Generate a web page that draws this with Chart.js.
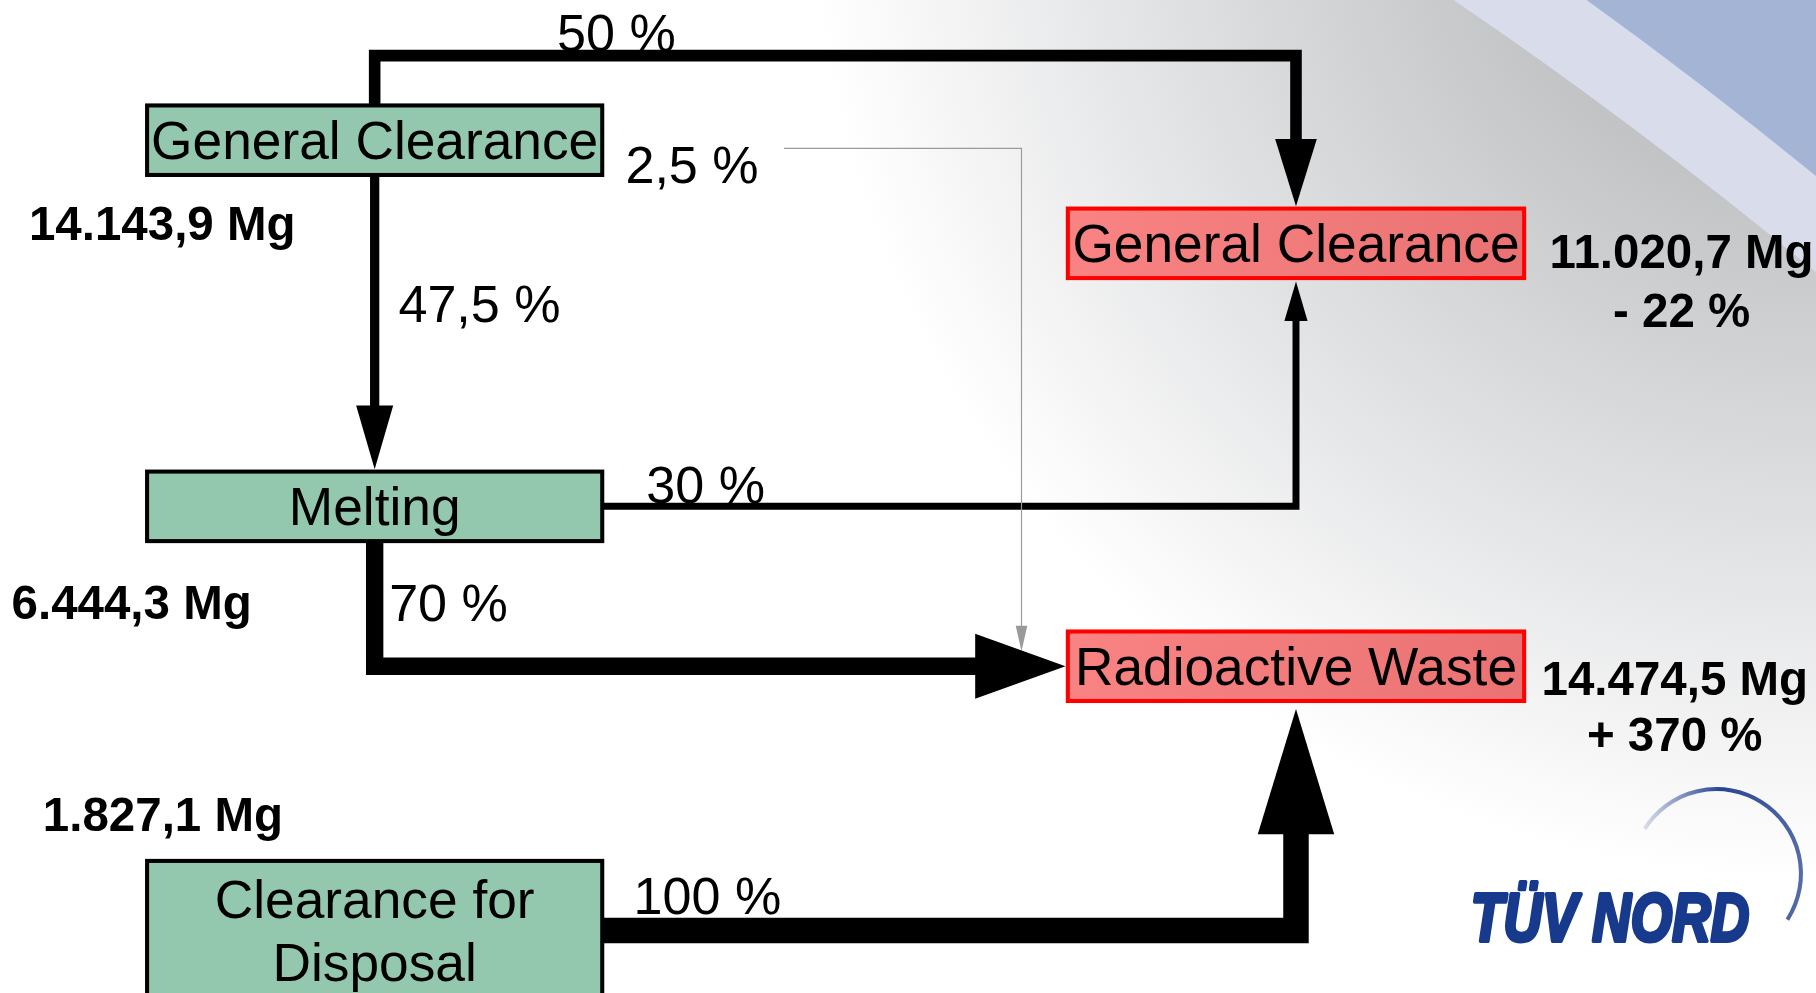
<!DOCTYPE html>
<html lang="en">
<head>
<meta charset="UTF-8">
<title>Material flows</title>
<script src="https://cdn.jsdelivr.net/npm/chart.js"></script>
<style>
    html, body { margin: 0; padding: 0; background: #fff; overflow: hidden; }
    #wrap { position: relative; width: 1816px; height: 993px; }
</style>
</head>
<body>
<div id="wrap"><canvas id="flowChart"></canvas></div>
<script>
// nodes of the diagram
const nodeNames = ['General Clearance', 'Melting', 'Clearance for Disposal', 'General Clearance', 'Radioactive Waste'];
const nodeMass = [14143.9, 6444.3, 1827.1, 11020.7, 14474.5];   // Mg
const nodeChange = [null, null, null, -22, 370];                 // % vs. before
const nodeKind = ['source', 'source', 'source', 'result', 'result'];

// flows between nodes
const flowFrom = [0, 0, 0, 1, 1, 2];
const flowTo = [3, 4, 1, 3, 4, 4];
const flowShare = [50, 2.5, 47.5, 30, 70, 100];   // % of the source node

// layout, in units of a 1568 x 857 sheet
const W = 1568, H = 857;
const K = 1816 / W;
const nodeBox = [[127, 91, 393, 60], [127, 407, 393, 60], [127, 743, 393, 120], [922, 180, 394, 60], [922, 545, 394, 60]];
const massAt = [[25, 193], [10, 520], [37, 703], [1338, 217], [1331, 585]];
const changeAt = [null, null, null, [1452, 268], [1446, 634]];
const shareAt = [[481, 28], [540, 142], [344, 262], [558, 418], [336, 520], [547, 773]];
const flowWidth = [10, 1, 8, 6, 15, 22];
const arrowSize = [[58, 18], [22, 5], [55, 16], [34, 10], [78, 28], [108, 33]];

const cx = i => nodeBox[i][0] + nodeBox[i][2] / 2;
const cy = i => nodeBox[i][1] + nodeBox[i][3] / 2;
const boxTop = i => nodeBox[i][1];
const boxBottom = i => nodeBox[i][1] + nodeBox[i][3];
const boxLeft = i => nodeBox[i][0];
const boxRight = i => nodeBox[i][0] + nodeBox[i][2];

// routing of each flow (orthogonal paths)
const flowRoute = [
    [[cx(0), boxTop(0)], [cx(0), 48], [cx(3), 48], [cx(3), boxTop(3) - 2]],
    [[677, 128], [882, 128], [882, 562]],
    [[cx(0), boxBottom(0)], [cx(1), boxTop(1) - 2]],
    [[boxRight(1), cy(1)], [cx(3), cy(1)], [cx(3), boxBottom(3) + 3]],
    [[cx(1), boxBottom(1)], [cx(1), cy(4)], [boxLeft(4) - 2, cy(4)]],
    [[boxRight(2), cy(2)], [cx(4), cy(2)], [cx(4), boxBottom(4) + 7]]
];

function deNumber(v, digits) {
    const parts = v.toFixed(digits).split('.');
    const int = parts[0].replace(/\B(?=(\d{3})+(?!\d))/g, '.');
    return parts.length > 1 ? int + ',' + parts[1] : int;
}
const shareText = s => String(s).replace('.', ',') + ' %';
const massText = m => deNumber(m, 1) + ' Mg';
const changeText = c => (c < 0 ? '- ' : '+ ') + Math.abs(c) + ' %';
const flowColor = i => (flowShare[i] < 5 ? '#9a9a9a' : '#000000');

const datasets = flowShare.map((s, i) => {
    const pts = flowRoute[i].map(p => ({ x: p[0], y: p[1] }));
    // stop the stroke where the arrow head starts
    const a = pts[pts.length - 2], b = pts[pts.length - 1];
    const len = Math.hypot(b.x - a.x, b.y - a.y);
    const cut = arrowSize[i][0] - 2;
    pts[pts.length - 1] = { x: b.x - (b.x - a.x) / len * cut, y: b.y - (b.y - a.y) / len * cut };
    return {
        label: nodeNames[flowFrom[i]] + ' -> ' + nodeNames[flowTo[i]],
        data: pts,
        showLine: true,
        borderColor: flowColor(i),
        borderWidth: flowWidth[i] * K,
        borderJoinStyle: 'miter',
        borderCapStyle: 'butt',
        pointRadius: 0,
        tension: 0,
        clip: false
    };
});

function label(ctx, text, x, y, size, opts) {
    ctx.font = (opts.bold ? 'bold ' : '') + (size * K) + 'px "Liberation Sans", Arial, sans-serif';
    ctx.textAlign = opts.align || 'left';
    ctx.textBaseline = 'alphabetic';
    ctx.fillStyle = '#000';
    ctx.fillText(text, x, y + 0.355 * size * K);
}

const diagramPlugin = {
    id: 'diagram',
    beforeDraw(chart) {
        const { ctx } = chart;
        const x = v => chart.scales.x.getPixelForValue(v);
        const y = v => chart.scales.y.getPixelForValue(v);
        ctx.save();
        const g = ctx.createRadialGradient(x(1560), y(-100), 240 * K, x(1560), y(-100), 860 * K);
        g.addColorStop(0, '#bfc1c3');
        g.addColorStop(0.45, '#dcdddf');
        g.addColorStop(1, '#ffffff');
        ctx.fillStyle = g;
        ctx.fillRect(0, 0, chart.width, chart.height);
        ctx.fillStyle = '#d9dcea';
        ctx.beginPath();
        ctx.moveTo(x(1255), y(0));
        ctx.quadraticCurveTo(x(1410), y(105), x(1568), y(235));
        ctx.lineTo(x(1568), y(0));
        ctx.closePath();
        ctx.fill();
        ctx.fillStyle = '#a4b4d5';
        ctx.beginPath();
        ctx.moveTo(x(1370), y(0));
        ctx.quadraticCurveTo(x(1470), y(72), x(1568), y(152));
        ctx.lineTo(x(1568), y(0));
        ctx.closePath();
        ctx.fill();
        ctx.restore();
    },
    afterDatasetsDraw(chart) {
        const { ctx } = chart;
        const x = v => chart.scales.x.getPixelForValue(v);
        const y = v => chart.scales.y.getPixelForValue(v);
        ctx.save();

        // arrow heads
        flowRoute.forEach((route, i) => {
            const a = route[route.length - 2], b = route[route.length - 1];
            const tx = x(b[0]), ty = y(b[1]);
            const dx = tx - x(a[0]), dy = ty - y(a[1]);
            const d = Math.hypot(dx, dy);
            const ux = dx / d, uy = dy / d;
            const len = arrowSize[i][0] * K, half = arrowSize[i][1] * K;
            const bx = tx - ux * len, by = ty - uy * len;
            ctx.fillStyle = flowColor(i);
            ctx.beginPath();
            ctx.moveTo(tx, ty);
            ctx.lineTo(bx - uy * half, by + ux * half);
            ctx.lineTo(bx + uy * half, by - ux * half);
            ctx.closePath();
            ctx.fill();
        });

        // boxes
        nodeBox.forEach((b, i) => {
            const x0 = x(b[0]), y0 = y(b[1]), w = x(b[0] + b[2]) - x0, h = y(b[1] + b[3]) - y0;
            if (nodeKind[i] === 'source') {
                ctx.fillStyle = '#93c8ae';
                ctx.strokeStyle = '#000';
            } else {
                const g = ctx.createLinearGradient(x0, 0, x0 + w, 0);
                g.addColorStop(0, '#f98383');
                g.addColorStop(1, '#ea7272');
                ctx.fillStyle = g;
                ctx.strokeStyle = '#ff0000';
            }
            ctx.lineWidth = 3.5 * K;
            ctx.fillRect(x0, y0, w, h);
            ctx.strokeRect(x0, y0, w, h);

            // box caption, wrapped when too wide
            ctx.font = (46 * K) + 'px "Liberation Sans", Arial, sans-serif';
            const words = nodeNames[i].split(' ');
            const lines = [];
            let cur = '';
            words.forEach(wd => {
                const t = cur ? cur + ' ' + wd : wd;
                if (cur && ctx.measureText(t).width > w - 6 * K) { lines.push(cur); cur = wd; } else cur = t;
            });
            lines.push(cur);
            const lh = 54;
            lines.forEach((ln, k) => {
                const yy = cy(i) + (k - (lines.length - 1) / 2) * lh;
                label(ctx, ln, x(cx(i)), y(yy), 46, { align: 'center' });
            });
        });

        // flow shares
        flowShare.forEach((s, i) => {
            label(ctx, shareText(s), x(shareAt[i][0]), y(shareAt[i][1]), 45, {});
        });

        // masses and changes
        nodeMass.forEach((m, i) => {
            label(ctx, massText(m), x(massAt[i][0]), y(massAt[i][1]), 41, { bold: true });
            if (nodeChange[i] !== null) {
                label(ctx, changeText(nodeChange[i]), x(changeAt[i][0]), y(changeAt[i][1]), 41, { bold: true, align: 'center' });
            }
        });

        // logo
        const ax = x(1482), ay = y(754), r = 73 * K;
        const lg = ctx.createLinearGradient(x(1415), 0, x(1555), 0);
        lg.addColorStop(0, 'rgba(40,70,150,0.1)');
        lg.addColorStop(0.5, 'rgba(28,58,140,0.95)');
        lg.addColorStop(1, 'rgba(28,58,140,0.75)');
        ctx.strokeStyle = lg;
        ctx.lineWidth = 3.5 * K;
        ctx.beginPath();
        ctx.arc(ax, ay, r, -148 * Math.PI / 180, 33 * Math.PI / 180);
        ctx.stroke();

        ctx.save();
        ctx.translate(x(1270), y(812));
        ctx.scale(0.78, 1);
        ctx.font = 'italic bold ' + (59 * K) + 'px "Liberation Sans", Arial, sans-serif';
        ctx.textAlign = 'left';
        ctx.textBaseline = 'alphabetic';
        ctx.fillStyle = '#173a8c';
        ctx.strokeStyle = '#173a8c';
        ctx.lineWidth = 3.5 * K;
        ctx.lineJoin = 'round';
        ctx.strokeText('TÜV NORD', 0, 0);
        ctx.fillText('TÜV NORD', 0, 0);
        ctx.restore();

        ctx.restore();
    }
};

new Chart(document.getElementById('flowChart'), {
    type: 'scatter',
    data: { datasets: datasets },
    options: {
        responsive: true,
        maintainAspectRatio: false,
        animation: false,
        events: [],
        layout: { padding: 0 },
        plugins: {
            legend: { display: false },
            tooltip: { enabled: false }
        },
        scales: {
            x: { type: 'linear', min: 0, max: W, display: false },
            y: { type: 'linear', min: 0, max: H, reverse: true, display: false }
        }
    },
    plugins: [diagramPlugin]
});
</script>
</body>
</html>
